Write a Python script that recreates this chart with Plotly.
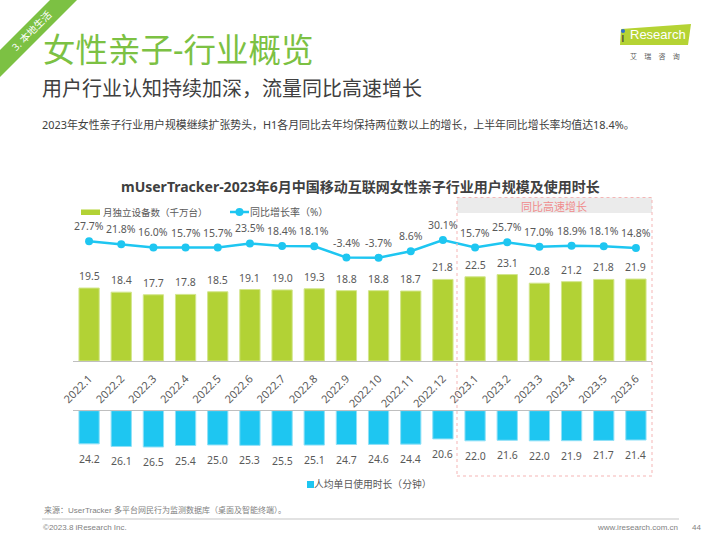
import plotly.graph_objects as go

# ---------------- data ----------------
months = ["2022.1", "2022.2", "2022.3", "2022.4", "2022.5", "2022.6", "2022.7", "2022.8",
          "2022.9", "2022.10", "2022.11", "2022.12", "2023.1", "2023.2", "2023.3", "2023.4",
          "2023.5", "2023.6"]
devices = [19.5, 18.4, 17.7, 17.8, 18.5, 19.1, 19.0, 19.3, 18.8, 18.8, 18.7, 21.8,
           22.5, 23.1, 20.8, 21.2, 21.8, 21.9]
growth = [27.7, 21.8, 16.0, 15.7, 15.7, 23.5, 18.4, 18.1, -3.4, -3.7, 8.6, 30.1,
          15.7, 25.7, 17.0, 18.9, 18.1, 14.8]
duration = [24.2, 26.1, 26.5, 25.4, 25.0, 25.3, 25.5, 25.1, 24.7, 24.6, 24.4, 20.6,
            22.0, 21.6, 22.0, 21.9, 21.7, 21.4]

GREEN = "#b2d235"
CYAN = "#1ec6f1"
TITLE_GREEN = "#7cc143"
TXT = "#595959"
FONT = "Noto Sans, Noto Sans CJK SC, sans-serif"

W, H = 720, 540


def px(x):
    return x / W


def py(y):
    return 1 - y / H


fig = go.Figure()

fig.add_trace(go.Bar(x=months, y=devices, xaxis="x", yaxis="y", width=0.63,
                     marker=dict(color=GREEN, line=dict(color="#d2e68c", width=1)),
                     showlegend=False, hoverinfo="x+y"))
fig.add_trace(go.Bar(x=months, y=duration, xaxis="x2", yaxis="y2", width=0.63,
                     marker=dict(color=CYAN, line=dict(color="#8fe0f7", width=1)),
                     showlegend=False, hoverinfo="x+y"))
fig.add_trace(go.Scatter(x=months, y=growth, xaxis="x3", yaxis="y3", mode="lines+markers",
                         line=dict(color=CYAN, width=2.5), marker=dict(color=CYAN, size=8),
                         showlegend=False, cliponaxis=False))

xdom = [px(73), px(652)]
ann = []
# category axis: annotation x given as category serial number
for i, v in enumerate(devices):
    ann.append(dict(x=i, y=v, xref="x", yref="y", text=f"{v:.1f}", showarrow=False,
                    yshift=12, font=dict(size=10.5, color=TXT, family=FONT)))
for i, v in enumerate(growth):
    ann.append(dict(x=i, y=v, xref="x3", yref="y3", text=f"{v:.1f}%", showarrow=False,
                    yshift=15, font=dict(size=10.5, color=TXT, family=FONT)))
for i, v in enumerate(duration):
    ann.append(dict(x=i, y=v, xref="x2", yref="y2", text=f"{v:.1f}", showarrow=False,
                    yshift=-15, font=dict(size=10.5, color=TXT, family=FONT)))


def txt(cx, cy, s, size, color, family=FONT, **kw):
    return dict(x=px(cx), y=py(cy), xref="paper", yref="paper", xanchor="center",
                yanchor="middle", text=s, showarrow=False,
                font=dict(size=size, color=color, family=family), **kw)


ann += [
    txt(178, 49, "女性亲子-行业概览", 32.5, TITLE_GREEN),
    txt(232, 88, "用户行业认知持续加深，流量同比高速增长", 20, "#404040"),
    txt(338.5, 124, "2023年女性亲子行业用户规模继续扩张势头，H1各月同比去年均保持两位数以上的增长，上半年同比增长率均值达18.4%。",
        10.9, "#404040"),
    txt(31, 31, "3. 本地生活", 10, "white", textangle=-45),
    txt(360, 186, "<b>mUserTracker-2023年6月中国移动互联网女性亲子行业用户规模及使用时长</b>", 14, "#404040"),
    # legends
    txt(155, 212, "月独立设备数（千万台）", 9.5, TXT),
    txt(289, 212, "同比增长率（%）", 10, TXT),
    txt(373, 484, "人均单日使用时长（分钟）", 9.8, TXT),
    txt(554, 206, "同比高速增长", 11, "#f08c8c"),
    # footer
    txt(164.5, 510, "来源：UserTracker 多平台网民行为监测数据库（桌面及智能终端）。", 8, "#7f7f7f",
        family="Liberation Sans, Noto Sans CJK SC"),
    txt(85, 527, "©2023.8 iResearch Inc.", 8, "#7f7f7f", family="Liberation Sans"),
    txt(637, 527, "www.iresearch.com.cn", 8, "#7f7f7f", family="Liberation Sans"),
    txt(696, 527, "44", 8, "#7f7f7f", family="Liberation Sans"),
    # logo
    txt(658, 35, "Research", 13, "white", family="Liberation Sans"),
    txt(623, 37, "ı", 13, "#3c3c3c", family="Liberation Sans"),
    txt(655, 56, "艾    瑞    咨    询", 7, "#595959"),
]

shapes = [
    # corner band
    dict(type="path", xref="paper", yref="paper", layer="below", line=dict(width=0),
         fillcolor=TITLE_GREEN,
         path=f"M {px(50)},{py(0)} L {px(77)},{py(0)} L {px(0)},{py(77)} L {px(0)},{py(50)} Z"),
    # logo
    dict(type="path", xref="paper", yref="paper", line=dict(width=0), fillcolor="#b5d334",
         path=f"M {px(621)},{py(29)} L {px(691)},{py(24)} L {px(688)},{py(45)} L {px(620)},{py(45)} Z"),
    dict(type="circle", xref="paper", yref="paper", line=dict(width=0), fillcolor="#2f6fd0",
         x0=px(621), x1=px(625), y0=py(33), y1=py(29)),
    # highlight region
    dict(type="rect", xref="paper", yref="paper", layer="below", line=dict(width=0),
         fillcolor="#ebebeb", x0=px(457), x1=px(652), y0=py(213), y1=py(197.5)),
    dict(type="rect", xref="paper", yref="paper", line=dict(color="#f5b5b5", width=1, dash="dot"),
         fillcolor="rgba(0,0,0,0)", x0=px(457), x1=px(652), y0=py(476), y1=py(197.5)),
    # legends
    dict(type="rect", xref="paper", yref="paper", line=dict(width=0), fillcolor=GREEN,
         x0=px(81), x1=px(100), y0=py(215), y1=py(209.5)),
    dict(type="line", xref="paper", yref="paper", line=dict(color=CYAN, width=2.5),
         x0=px(230), x1=px(249), y0=py(212), y1=py(212)),
    dict(type="circle", xref="paper", yref="paper", line=dict(width=0), fillcolor=CYAN,
         x0=px(235.5), x1=px(243.5), y0=py(216), y1=py(208)),
    dict(type="rect", xref="paper", yref="paper", line=dict(width=0), fillcolor=CYAN,
         x0=px(307), x1=px(314), y0=py(488), y1=py(481)),
    # footer line
    dict(type="line", xref="paper", yref="paper", line=dict(color="#d9d9d9", width=1.5),
         x0=px(42), x1=px(679), y0=py(519), y1=py(519)),
]

fig.update_layout(
    width=W, height=H, margin=dict(l=0, r=0, t=0, b=0, autoexpand=False),
    paper_bgcolor="white", plot_bgcolor="rgba(0,0,0,0)",
    font=dict(family=FONT, color=TXT),
    xaxis=dict(domain=xdom, anchor="y", type="category", tickmode="array",
               tickvals=months, ticktext=months, tickangle=-45, automargin=False,
               tickfont=dict(size=11, color=TXT, family=FONT),
               ticklabelstandoff=6,
               showline=True, linecolor="#bfbfbf", linewidth=1, ticks="",
               showgrid=False, zeroline=False, range=[-0.5, 17.5]),
    yaxis=dict(domain=[py(361), py(271.2)], range=[0, 24], visible=False, anchor="x",
               automargin=False),
    xaxis2=dict(domain=xdom, anchor="y2", matches="x", side="top", showticklabels=False,
                automargin=False,
                showline=True, linecolor="#bfbfbf", linewidth=1, ticks="", showgrid=False),
    yaxis2=dict(domain=[py(410.7 + 30 * 1.37), py(410.7)], range=[30, 0], visible=False,
                anchor="x2", automargin=False),
    xaxis3=dict(domain=xdom, anchor="y3", matches="x", visible=False, automargin=False),
    yaxis3=dict(domain=[py(261), py(234.8)], range=[-10, 40], visible=False, anchor="x3",
                automargin=False),
    annotations=ann,
    shapes=shapes,
)

fig.write_html("out.html")
